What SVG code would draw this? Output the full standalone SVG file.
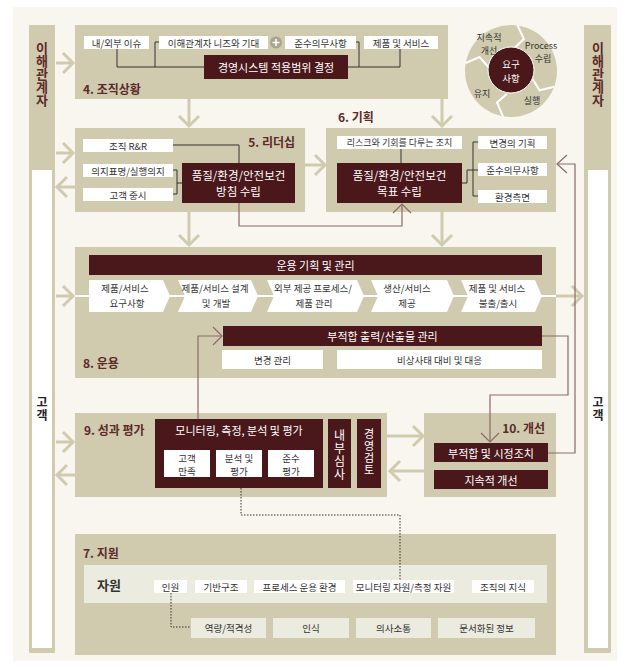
<svg xmlns="http://www.w3.org/2000/svg" width="627" height="668" viewBox="0 0 627 668">
<defs>
<style>
.tan{fill:#d0cbaf}
.dk{fill:#4a171b}
.wl{fill:#fff}
.lt{fill:#ecebdf}
text{font-family:"Noto Sans CJK KR","Noto Sans",sans-serif}
.lbl{font-size:9.5px;fill:#333;text-anchor:middle;dominant-baseline:central}
.dt{font-size:11px;fill:#fff;text-anchor:middle;dominant-baseline:central}
.sec{font-size:12px;font-weight:bold;fill:#5c2a28;dominant-baseline:central}
.vt{writing-mode:vertical-rl;text-anchor:middle}
.col{font-size:13px;font-weight:bold;fill:#5c2a28}
.cust{font-size:12px;font-weight:bold;fill:#222;letter-spacing:1px}
.cy{font-size:9px;fill:#333;text-anchor:middle;dominant-baseline:central}
.ta{fill:none;stroke:#d0cbaf;stroke-width:3}
.ma{fill:none;stroke:#8a6a68;stroke-width:1.2}
.bk{fill:none;stroke:#333;stroke-width:1}
.dot{fill:none;stroke:#333;stroke-width:1;stroke-dasharray:1.5 1.5}
.wln{fill:none;stroke:#fff;stroke-width:2}
</style>
</defs>
<rect x="0" y="0" width="627" height="668" fill="#fff"/>
<rect x="13" y="7" width="604" height="654" fill="#f9f6ef"/>

<!-- side columns -->
<g id="stakeholder-left">
<rect class="tan" x="29" y="25" width="26" height="628"/>
<rect class="wl" x="32" y="170" width="20" height="478"/>
<text class="vt col" x="42" y="74">이해관계자</text>
<text class="vt cust" x="42" y="409">고객</text>
</g>
<g id="stakeholder-right">
<rect class="tan" x="584" y="25" width="27" height="628"/>
<rect class="wl" x="588" y="170" width="20" height="478"/>
<text class="vt col" x="598" y="74">이해관계자</text>
<text class="vt cust" x="598" y="409">고객</text>
</g>

<!-- cycle -->
<g id="cycle">
<circle class="tan" cx="511" cy="71" r="46"/>
<polyline class="wln" points="514.2,48.2 523.9,39 517.4,25"/>
<polyline class="wln" points="532.6,78.9 539.6,90.3 554.2,86.7"/>
<polyline class="wln" points="507,93.7 497,102.5 503,116.3"/>
<polyline class="wln" points="488.3,67 479.5,57 465.7,63"/>
<circle class="dk" cx="511" cy="70" r="23" stroke="#fff" stroke-width="1"/>
<text class="cy" x="489" y="37.5">지속적</text>
<text class="cy" x="489" y="50.5">개선</text>
<text class="cy" x="541" y="45.5">Process</text>
<text class="cy" x="543" y="58.5">수립</text>
<text class="cy" x="482" y="93">유지</text>
<text class="cy" x="532" y="100">실행</text>
<text class="cy" x="511" y="63.5" style="fill:#fff;font-size:9.5px">요구</text>
<text class="cy" x="511" y="78" style="fill:#fff;font-size:9.5px">사항</text>
</g>

<!-- 4 -->
<g id="context">
<rect class="tan" x="75" y="25" width="373" height="74"/>
<rect class="wl" x="84" y="36" width="65" height="13"/><text class="lbl" x="116.5" y="42.5">내/외부 이슈</text>
<rect class="wl" x="159" y="36" width="109" height="13"/><text class="lbl" x="213.5" y="42.5">이해관계자 니즈와 기대</text>
<circle cx="276" cy="42.5" r="6" fill="#a9a48c"/><path d="M272.5 42.5h7M276 39v7" stroke="#fff" stroke-width="1.6"/>
<rect class="wl" x="285" y="36" width="71" height="13"/><text class="lbl" x="320.5" y="42.5">준수의무사항</text>
<rect class="wl" x="364" y="36" width="74" height="13"/><text class="lbl" x="401" y="42.5">제품 및 서비스</text>
<rect class="dk" x="204" y="55" width="144" height="24"/><text class="dt" x="276" y="67">경영시스템 적용범위 결정</text>
<text class="sec" x="83" y="88">4. 조직상황</text>
<polyline class="bk" points="117,49 117,67 204,67"/>
<polyline class="bk" points="159,42 155,42 155,67"/>
<polyline class="bk" points="356,42 359,42 359,67"/>
<polyline class="bk" points="348,67 400,67 400,49"/>
</g>

<!-- 5 -->
<g id="leadership">
<rect class="tan" x="75" y="128" width="230" height="84"/>
<text class="sec" x="295" y="141" text-anchor="end">5. 리더십</text>
<rect class="wl" x="83" y="139" width="90" height="13"/><text class="lbl" x="128" y="145.5">조직 R&amp;R</text>
<rect class="wl" x="83" y="164" width="90" height="13"/><text class="lbl" x="128" y="170.5">의지표명/실행의지</text>
<rect class="wl" x="83" y="188" width="90" height="13"/><text class="lbl" x="128" y="194.5">고객 중시</text>
<rect class="dk" x="182" y="163" width="113" height="40"/>
<text class="dt" x="238.5" y="175" style="font-size:11.5px">품질/환경/안전보건</text>
<text class="dt" x="238.5" y="191" style="font-size:11.5px">방침 수립</text>
<polyline class="bk" points="173,145 239,145 239,163"/>
<polyline class="bk" points="173,170 177,170 177,194 173,194"/>
<line class="bk" x1="177" y1="183" x2="182" y2="183"/>
</g>

<!-- 6 -->
<g id="planning">
<text class="sec" x="338" y="116">6. 기획</text>
<rect class="tan" x="326" y="128" width="230" height="84"/>
<rect class="wl" x="337" y="136" width="125" height="13"/><text class="lbl" x="399.5" y="142.5" style="font-size:9px">리스크와 기회를 다루는 조치</text>
<rect class="dk" x="337" y="163" width="125" height="40"/>
<text class="dt" x="399.5" y="175" style="font-size:11.5px">품질/환경/안전보건</text>
<text class="dt" x="399.5" y="191" style="font-size:11.5px">목표 수립</text>
<rect class="wl" x="478" y="136" width="69" height="13"/><text class="lbl" x="512.5" y="142.5">변경의 기획</text>
<rect class="wl" x="478" y="163" width="69" height="13"/><text class="lbl" x="512.5" y="169.5">준수의무사항</text>
<rect class="wl" x="478" y="190" width="69" height="13"/><text class="lbl" x="512.5" y="196.5">환경측면</text>
<line class="bk" x1="401" y1="149" x2="401" y2="163"/>
<polyline class="bk" points="462,183 467,183 467,170 473,170"/>
<polyline class="bk" points="478,142 473,142 473,196 478,196"/>
<line class="bk" x1="473" y1="170" x2="478" y2="170"/>
</g>

<!-- 8 -->
<g id="operation">
<rect class="tan" x="75" y="247" width="481" height="131"/>
<rect class="dk" x="89" y="255" width="453" height="20"/><text class="dt" x="315.5" y="265">운용 기획 및 관리</text>
<line class="wln" x1="73" y1="296" x2="556" y2="296"/>
<polygon class="wl" points="89,280 163,280 170,296 163,312 89,312"/>
<polygon class="wl" points="178,280 251,280 258,296 251,312 178,312 185,296"/>
<polygon class="wl" points="267,280 357,280 364,296 357,312 267,312 274,296"/>
<polygon class="wl" points="371,280 447,280 454,296 447,312 371,312 378,296"/>
<polygon class="wl" points="461,280 535,280 542,296 535,312 461,312 468,296"/>
<text class="lbl" x="125" y="288">제품/서비스</text><text class="lbl" x="127" y="303">요구사항</text>
<text class="lbl" x="215" y="288">제품/서비스 설계</text><text class="lbl" x="216" y="303">및 개발</text>
<text class="lbl" x="313" y="288">외부 제공 프로세스/</text><text class="lbl" x="314" y="303">제품 관리</text>
<text class="lbl" x="407" y="288">생산/서비스</text><text class="lbl" x="407" y="303">제공</text>
<text class="lbl" x="497" y="288">제품 및 서비스</text><text class="lbl" x="498" y="303">불출/출시</text>
<rect class="dk" x="223" y="326" width="319" height="20"/><text class="dt" x="382.5" y="336">부적합 출력/산출물 관리</text>
<rect class="wl" x="222" y="350" width="101" height="19"/><text class="lbl" x="272.5" y="359.5">변경 관리</text>
<rect class="wl" x="337" y="350" width="205" height="19"/><text class="lbl" x="439.5" y="359.5">비상사태 대비 및 대응</text>
<text class="sec" x="83" y="362">8. 운용</text>
</g>

<!-- 9 -->
<g id="evaluation">
<rect class="tan" x="75" y="413" width="312" height="84"/>
<text class="sec" x="84" y="429">9. 성과 평가</text>
<rect class="dk" x="155" y="419" width="168" height="69"/>
<text class="dt" x="239" y="430">모니터링, 측정, 분석 및 평가</text>
<rect class="wl" x="164" y="450" width="46" height="27"/><text class="lbl" x="187" y="457.5">고객</text><text class="lbl" x="187" y="470.5">만족</text>
<rect class="wl" x="216" y="450" width="46" height="27"/><text class="lbl" x="239" y="457.5">분석 및</text><text class="lbl" x="239" y="470.5">평가</text>
<rect class="wl" x="268" y="450" width="46" height="27"/><text class="lbl" x="291" y="457.5">준수</text><text class="lbl" x="291" y="470.5">평가</text>
<rect class="dk" x="328" y="419" width="23" height="69"/>
<text class="vt" x="339.5" y="455.5" style="font-size:12px;fill:#fff;letter-spacing:1px">내부심사</text>
<rect class="dk" x="357" y="419" width="24" height="69"/>
<text class="vt" x="369" y="452.5" style="font-size:11px;fill:#fff;letter-spacing:1px">경영검토</text>
</g>

<!-- 10 -->
<g id="improvement">
<rect class="tan" x="424" y="413" width="132" height="84"/>
<text class="sec" x="545" y="427" text-anchor="end">10. 개선</text>
<rect class="dk" x="434" y="443" width="114" height="19"/><text class="dt" x="491" y="452.5">부적합 및 시정조치</text>
<rect class="dk" x="434" y="470" width="114" height="19"/><text class="dt" x="491" y="479.5">지속적 개선</text>
</g>

<!-- 7 -->
<g id="support">
<rect class="tan" x="75" y="534" width="481" height="121"/>
<text class="sec" x="83" y="552">7. 지원</text>
<rect class="lt" x="84" y="565" width="463" height="38"/>
<text x="109" y="584" style="font-size:13px;font-weight:bold;fill:#333;text-anchor:middle;dominant-baseline:central">자원</text>
<rect class="wl" x="154" y="580" width="33" height="13"/><text class="lbl" x="170.5" y="586.5">인원</text>
<rect class="wl" x="195" y="580" width="52" height="13"/><text class="lbl" x="221" y="586.5">기반구조</text>
<rect class="wl" x="254" y="580" width="91" height="13"/><text class="lbl" x="299.5" y="586.5">프로세스 운용 환경</text>
<rect class="wl" x="353" y="580" width="101" height="13"/><text class="lbl" x="403.5" y="586.5">모니터링 자원/측정 자원</text>
<rect class="wl" x="472" y="580" width="62" height="13"/><text class="lbl" x="503" y="586.5">조직의 지식</text>
<rect class="lt" x="191" y="618" width="75" height="20"/><text class="lbl" x="228.5" y="628">역량/적격성</text>
<rect class="lt" x="273" y="618" width="76" height="20"/><text class="lbl" x="311" y="628">인식</text>
<rect class="lt" x="356" y="618" width="75" height="20"/><text class="lbl" x="393.5" y="628">의사소통</text>
<rect class="lt" x="438" y="618" width="97" height="20"/><text class="lbl" x="486.5" y="628">문서화된 정보</text>
</g>

<!-- connectors -->
<g id="connectors">
<line class="ta" x1="56" y1="63" x2="72" y2="63"/><polyline class="ta" points="63,53 73,63 63,73"/>
<line class="ta" x1="189" y1="99" x2="189" y2="125"/><polyline class="ta" points="179,116 189,126 199,116"/>
<line class="ta" x1="442" y1="99" x2="442" y2="125"/><polyline class="ta" points="432,116 442,126 452,116"/>
<line class="ta" x1="56" y1="153" x2="72" y2="153"/><polyline class="ta" points="63,143 73,153 63,163"/>
<line class="ta" x1="58" y1="187" x2="75" y2="187"/><polyline class="ta" points="67,177 57,187 67,197"/>
<line class="ta" x1="305" y1="165" x2="324" y2="165"/><polyline class="ta" points="315,155 325,165 315,175"/>
<line class="ta" x1="189" y1="212" x2="189" y2="244"/><polyline class="ta" points="179,235 189,245 199,235"/>
<line class="ta" x1="442" y1="212" x2="442" y2="244"/><polyline class="ta" points="432,235 442,245 452,235"/>
<line class="ta" x1="56" y1="296" x2="74" y2="296"/><polyline class="ta" points="63,286 73,296 63,306"/>
<line class="ta" x1="556" y1="296" x2="582" y2="296"/><polyline class="ta" points="572,286 582,296 572,306"/>
<line class="ta" x1="56" y1="442" x2="74" y2="442"/><polyline class="ta" points="63,432 73,442 63,452"/>
<line class="ta" x1="58" y1="475" x2="75" y2="475"/><polyline class="ta" points="67,465 57,475 67,485"/>
<line class="ta" x1="387" y1="436" x2="422" y2="436"/><polyline class="ta" points="413,426 423,436 413,446"/>
<line class="ta" x1="390" y1="471" x2="424" y2="471"/><polyline class="ta" points="400,461 390,471 400,481"/>
<polyline class="ma" points="239,203 239,226 402,226 402,204"/><polyline class="ma" points="393,213 402,204 411,213"/>
<polyline class="ma" points="548,453 575,453 575,164 557,164"/><polyline class="ma" points="567,155 557,164 567,173"/>
<polyline class="ma" points="542,336 568,336 568,395 490,395 490,442"/><polyline class="ma" points="481,433 490,442 499,433"/>
<polyline class="ma" points="198,419 198,336 222,336"/><polyline class="ma" points="213,327 222,336 213,345"/>
<polyline class="dot" points="241,488 241,515 400,515 400,580"/>
<polyline class="dot" points="171,593 171,627 191,627"/>
</g>
</svg>
